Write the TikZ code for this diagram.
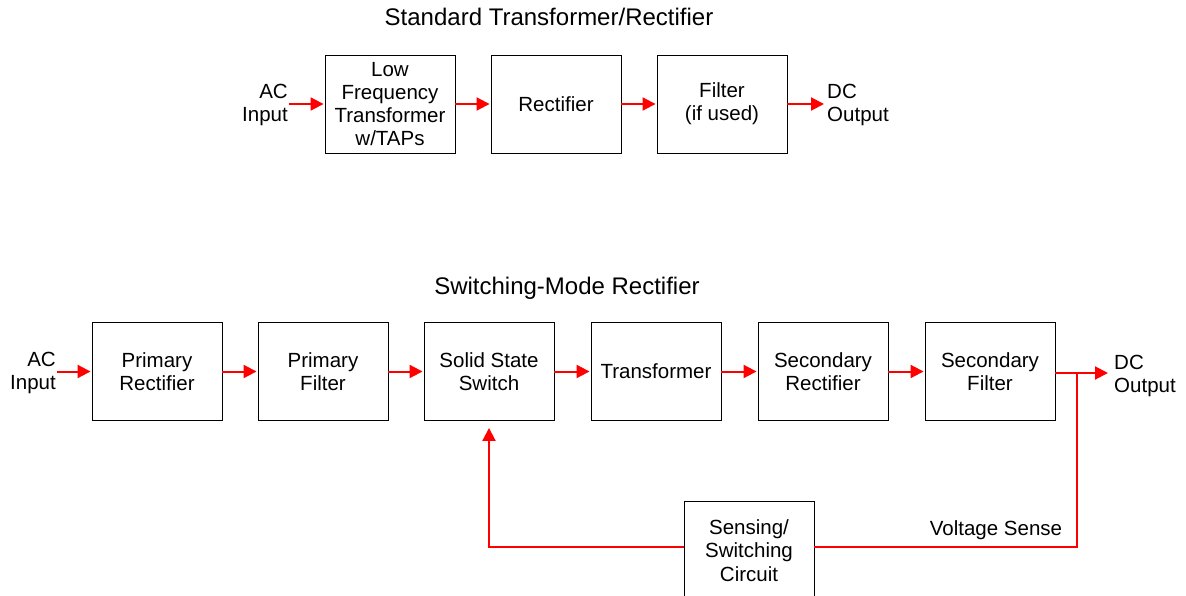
\documentclass[tikz,border=0pt]{standalone}
\usepackage{fontspec}
\setmainfont{Liberation Sans}
\usetikzlibrary{arrows.meta}
\begin{document}
\begin{tikzpicture}[x=1pt,y=-1pt,
  font=\fontsize{20.5}{23.3}\selectfont,
  blk/.style={draw=black,line width=0.9pt,minimum width=130pt,minimum height=98pt,align=center,inner sep=0pt},
  lbl/.style={align=center,inner sep=1pt},
  ttl/.style={inner sep=1pt,font=\fontsize{24}{28}\selectfont},
  arr/.style={draw=red,line width=2pt,-{Triangle[length=13pt,width=13pt]}},
  ln/.style={draw=red,line width=2pt}]
\useasboundingbox (0,0) rectangle (1186,596);
\clip (0,0) rectangle (1186,596);
% top
\node[ttl] (t1) at (549,17) {Standard Transformer/Rectifier};
\node[lbl,align=right,anchor=east] (ac1) at (289,105) {AC\\Input};
\node[blk] (a1) at (390,104) {Low\\Frequency\\Transformer\\w/TAPs};
\node[blk] (a2) at (556,104) {Rectifier};
\node[blk] (a3) at (722,104) {Filter\\(if used)};
\node[lbl,align=left,anchor=west] (dc1) at (826,105) {DC\\Output};
\draw[arr,shorten >=1pt] (ac1.east |- a1.west) -- (a1.west);
\draw[arr,shorten >=1pt] (a1) -- (a2);
\draw[arr,shorten >=1pt] (a2) -- (a3);
\draw[arr,shorten >=2pt] (a3.east) -- (dc1.west |- a3.east);
% bottom
\node[ttl] (t2) at (567,288) {Switching-Mode Rectifier};
\node[lbl,align=right,anchor=east] (ac2) at (57,373) {AC\\Input};
\node[blk] (s1) at (157,371.5) {Primary\\Rectifier};
\node[blk] (s2) at (323,371.5) {Primary\\Filter};
\node[blk] (s3) at (489,371.5) {Solid State\\Switch};
\node[blk] (s4) at (656,371.5) {Transformer};
\node[blk] (s5) at (823,371.5) {Secondary\\Rectifier};
\node[blk] (s6) at (990,371.5) {Secondary\\Filter};
\node[lbl,align=left,anchor=west] (dc2) at (1113,376) {DC\\Output};
\node[blk] (sw) at (749,550.5) {Sensing/\\Switching\\Circuit};
\node[lbl] (vs) at (996,530) {Voltage Sense};
\coordinate (j) at (1077,373);
\draw[arr,shorten >=1pt] (ac2.east |- s1.west) -- (s1.west);
\draw[arr,shorten >=1pt] (s1) -- (s2);
\draw[arr,shorten >=1pt] (s2) -- (s3);
\draw[arr,shorten >=1pt] (s3) -- (s4);
\draw[arr,shorten >=1pt] (s4) -- (s5);
\draw[arr,shorten >=1pt] (s5) -- (s6);
\draw[arr,shorten >=5pt] (s6.east |- j) -- (dc2.west |- j);
\draw[ln] (j) |- (sw.east |- 0,547);
\draw[arr,shorten >=7pt] (sw.west |- 0,547) -| (s3.south);
\end{tikzpicture}
\end{document}
